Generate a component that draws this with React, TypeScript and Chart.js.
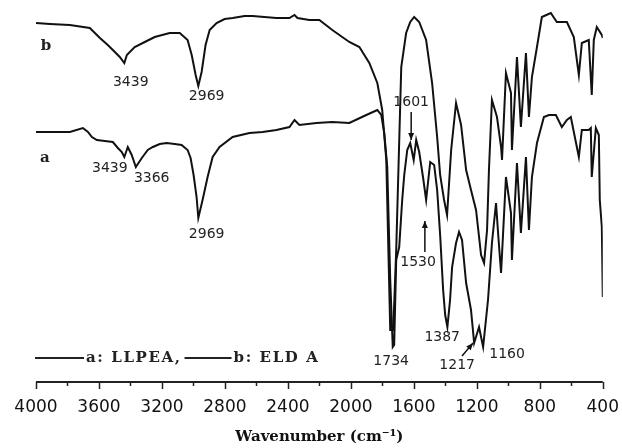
import React, { useEffect, useRef } from 'react';
import { Chart, registerables } from 'chart.js';

Chart.register(...registerables);

// Spectrum b: ELDA (wavenumber cm-1, transmittance a.u.)
const waveB = [4000, 3911, 3785, 3658, 3626, 3594, 3544, 3499, 3468, 3439, 3423, 3373, 3309, 3246, 3151, 3087, 3037, 3011, 2986, 2969, 2948, 2923, 2897, 2853, 2802, 2751, 2675, 2625, 2549, 2473, 2390, 2358, 2339, 2263, 2200, 2118, 2010, 1946, 1883, 1832, 1801, 1775, 1750, 1731, 1712, 1680, 1649, 1623, 1598, 1566, 1522, 1484, 1452, 1433, 1408, 1389, 1363, 1332, 1300, 1268, 1237, 1205, 1173, 1154, 1135, 1123, 1104, 1072, 1046, 1040, 1015, 983, 977, 945, 920, 888, 869, 850, 818, 787, 730, 692, 628, 584, 552, 533, 489, 470, 457, 438, 406, 400];
const valuesB = [89.75, 89.5, 89.25, 88.5, 87.25, 86, 84.25, 82.5, 81.25, 79.75, 81.75, 83.75, 85, 86.25, 87.25, 87.25, 85.5, 81.75, 76.75, 74, 77.5, 84.25, 88, 89.75, 90.75, 91, 91.5, 91.5, 91.25, 91, 91, 91.75, 91, 90.5, 90.5, 88, 85, 83.75, 79.75, 74.75, 68, 55.5, 13, 13, 33, 78.75, 87.25, 90, 91.25, 90, 85.5, 74.75, 61.25, 51.75, 45.5, 41.75, 58, 69.75, 64.25, 53, 48, 43, 31.75, 29.75, 38, 53, 70.5, 66.25, 58.75, 55.5, 77.25, 72.25, 58, 81.25, 63.75, 82.25, 66.25, 76.25, 83.75, 91.25, 92.25, 90, 90, 86.25, 76.75, 84.75, 85.5, 71.75, 85.5, 88.75, 86.75, 86];

// Spectrum a: LLPEA
const waveA = [4000, 3785, 3702, 3670, 3645, 3613, 3563, 3512, 3480, 3455, 3439, 3417, 3392, 3366, 3328, 3290, 3258, 3214, 3170, 3119, 3075, 3037, 3018, 2999, 2980, 2969, 2942, 2910, 2878, 2834, 2751, 2644, 2561, 2473, 2390, 2358, 2327, 2219, 2118, 2010, 1902, 1832, 1807, 1788, 1769, 1750, 1734, 1725, 1712, 1693, 1674, 1661, 1642, 1623, 1601, 1585, 1566, 1541, 1522, 1496, 1471, 1452, 1433, 1414, 1401, 1387, 1370, 1357, 1332, 1313, 1294, 1268, 1237, 1217, 1186, 1160, 1129, 1104, 1078, 1065, 1046, 1015, 983, 977, 945, 920, 888, 869, 850, 818, 774, 742, 698, 660, 628, 603, 552, 533, 489, 476, 470, 444, 425, 419, 406, 400];
const valuesA = [62.5, 62.5, 63.5, 62.5, 61.25, 60.5, 60.25, 60, 58.5, 57.5, 56.25, 58.75, 56.75, 53.75, 56, 58, 58.75, 59.5, 59.75, 59.5, 59.25, 58, 56, 51.75, 46.25, 41, 45.5, 51.25, 56.25, 58.75, 61.25, 62.25, 62.5, 63, 63.75, 65.5, 64.25, 64.75, 65, 64.75, 66.75, 68, 66.75, 62.25, 53.75, 25.5, 8.75, 9.25, 30.5, 33.75, 45.5, 51.75, 58, 59.75, 55.5, 60.5, 57.5, 51, 45.5, 55, 54.25, 48, 36.75, 23, 16.75, 13.75, 20.5, 28.75, 34.75, 37.5, 35.5, 24.75, 18, 9.75, 13.75, 8.75, 20.5, 34.75, 44.75, 37.25, 27.25, 51.25, 42.25, 30.5, 54.75, 37.25, 56.25, 38, 51.25, 59.75, 66.25, 66.75, 66.75, 63.75, 65.5, 66.25, 56.25, 63, 63, 63.5, 51.25, 63.5, 61.75, 45.5, 38.75, 21.25];

// Peak annotations: text, wavenumber, transmittance of label centre
const peakTexts = ['3439', '2969', '3439', '3366', '2969', '1601', '1530', '1387', '1734', '1217', '1160'];
const peakWaves = [3398, 2916, 3531, 3265, 2916, 1617, 1573, 1420, 1744, 1325, 1008];
const peakValues = [75, 71.5, 53.5, 51, 37, 70, 30, 11.25, 5.25, 4.25, 7];

// Arrows: from (wave, value) to (wave, value)
const arrowFromWave = [1617, 1530, 1294];
const arrowFromValue = [67.5, 32.5, 6.5];
const arrowToWave = [1617, 1530, 1224];
const arrowToValue = [60.5, 40.25, 9.75];

// Curve labels
const curveNames = ['b', 'a'];
const curveNameWaves = [3937, 3943];
const curveNameValues = [84, 56];

const legendItems = ['a: LLPEA,', 'b: ELD A'];

const majorTicks = [4000, 3600, 3200, 2800, 2400, 2000, 1600, 1200, 800, 400];
const minorTicks = [3800, 3400, 3000, 2600, 2200, 1800, 1400, 1000, 600];

const decorPlugin = {
  id: 'decor',
  afterDraw(chart: any) {
    const ctx = chart.ctx;
    const xs = chart.scales.x;
    const ys = chart.scales.y;
    const area = chart.chartArea;
    ctx.save();
    // axis line and ticks
    ctx.strokeStyle = '#222';
    ctx.lineWidth = 2;
    ctx.beginPath();
    ctx.moveTo(xs.getPixelForValue(4000), area.bottom);
    ctx.lineTo(xs.getPixelForValue(400), area.bottom);
    ctx.stroke();
    ctx.lineWidth = 1.5;
    majorTicks.forEach((v) => {
      const px = Math.round(xs.getPixelForValue(v)) + 0.5;
      ctx.beginPath();
      ctx.moveTo(px, area.bottom);
      ctx.lineTo(px, area.bottom + 7);
      ctx.stroke();
    });
    minorTicks.forEach((v) => {
      const px = Math.round(xs.getPixelForValue(v)) + 0.5;
      ctx.beginPath();
      ctx.moveTo(px, area.bottom);
      ctx.lineTo(px, area.bottom + 4);
      ctx.stroke();
    });

    // peak labels
    ctx.fillStyle = '#222';
    ctx.font = '14px "DejaVu Sans"';
    ctx.textAlign = 'center';
    ctx.textBaseline = 'middle';
    peakTexts.forEach((t, i) => {
      ctx.fillText(t, xs.getPixelForValue(peakWaves[i]), ys.getPixelForValue(peakValues[i]));
    });

    // arrows
    ctx.strokeStyle = '#111';
    ctx.fillStyle = '#111';
    ctx.lineWidth = 1.5;
    arrowFromWave.forEach((w, i) => {
      const x1 = xs.getPixelForValue(w);
      const y1 = ys.getPixelForValue(arrowFromValue[i]);
      const x2 = xs.getPixelForValue(arrowToWave[i]);
      const y2 = ys.getPixelForValue(arrowToValue[i]);
      const ang = Math.atan2(y2 - y1, x2 - x1);
      ctx.beginPath();
      ctx.moveTo(x1, y1);
      ctx.lineTo(x2, y2);
      ctx.stroke();
      const hl = 7;
      const hw = 3;
      ctx.beginPath();
      ctx.moveTo(x2, y2);
      ctx.lineTo(x2 - hl * Math.cos(ang) + hw * Math.sin(ang), y2 - hl * Math.sin(ang) - hw * Math.cos(ang));
      ctx.lineTo(x2 - hl * Math.cos(ang) - hw * Math.sin(ang), y2 - hl * Math.sin(ang) + hw * Math.cos(ang));
      ctx.closePath();
      ctx.fill();
    });

    // curve names
    ctx.fillStyle = '#222';
    ctx.font = 'bold 15px "DejaVu Serif"';
    curveNames.forEach((n, i) => {
      ctx.fillText(n, xs.getPixelForValue(curveNameWaves[i]), ys.getPixelForValue(curveNameValues[i]));
    });

    // legend
    const ly = area.bottom - 24;
    let lx = area.left - 1;
    ctx.font = 'bold 15px "DejaVu Serif"';
    ctx.textAlign = 'left';
    (ctx as any).letterSpacing = '1.6px';
    legendItems.forEach((label, i) => {
      const lineLen = i === 0 ? 49 : 47;
      ctx.strokeStyle = '#222';
      ctx.lineWidth = 2;
      ctx.beginPath();
      ctx.moveTo(lx, ly);
      ctx.lineTo(lx + lineLen, ly);
      ctx.stroke();
      ctx.fillText(label, lx + lineLen + 2, ly);
      lx += lineLen + 2 + ctx.measureText(label).width + 3;
    });
    ctx.restore();
  },
};

export default function App() {
  const ref = useRef<HTMLCanvasElement | null>(null);
  useEffect(() => {
    if (!ref.current) return;
    const chart = new Chart(ref.current, {
      type: 'line',
      data: {
        datasets: [
          {
            label: 'b: ELDA',
            data: waveB.map((w, i) => ({ x: w, y: valuesB[i] })),
            borderColor: '#111',
            borderWidth: 2,
            pointRadius: 0,
            tension: 0,
            fill: false,
          },
          {
            label: 'a: LLPEA',
            data: waveA.map((w, i) => ({ x: w, y: valuesA[i] })),
            borderColor: '#111',
            borderWidth: 2,
            pointRadius: 0,
            tension: 0,
            fill: false,
          },
        ],
      },
      options: {
        animation: false,
        responsive: false,
        events: [],
        layout: { padding: { left: 36, right: 19, top: 10, bottom: 0 } },
        plugins: { legend: { display: false }, tooltip: { enabled: false } },
        scales: {
          x: {
            type: 'linear',
            reverse: true,
            min: 400,
            max: 4000,
            afterFit: (s: any) => {
              s.height = 66;
            },
            grid: {
              display: true,
              drawOnChartArea: false,
              drawTicks: true,
              tickLength: 12,
              color: 'rgba(0,0,0,0)',
            },
            border: { display: false },
            ticks: {
              stepSize: 400,
              padding: 3,
              maxRotation: 0,
              autoSkip: false,
              color: '#111',
              font: { family: 'DejaVu Sans', size: 17 },
              callback: (v: any) => String(v),
            },
            title: {
              display: true,
              text: 'Wavenumber (cm⁻¹)',
              color: '#111',
              font: { family: 'DejaVu Serif', size: 15, weight: 'bold' },
              padding: { top: 0, bottom: 2 },
            },
          },
          y: {
            display: false,
            min: 0,
            max: 93,
          },
        },
      },
      plugins: [decorPlugin],
    });
    return () => chart.destroy();
  }, []);
  return (
    <div style={{ position: 'fixed', left: 0, top: 0, width: 622, height: 448, background: '#fff' }}>
      <canvas ref={ref} width={622} height={448} />
    </div>
  );
}
